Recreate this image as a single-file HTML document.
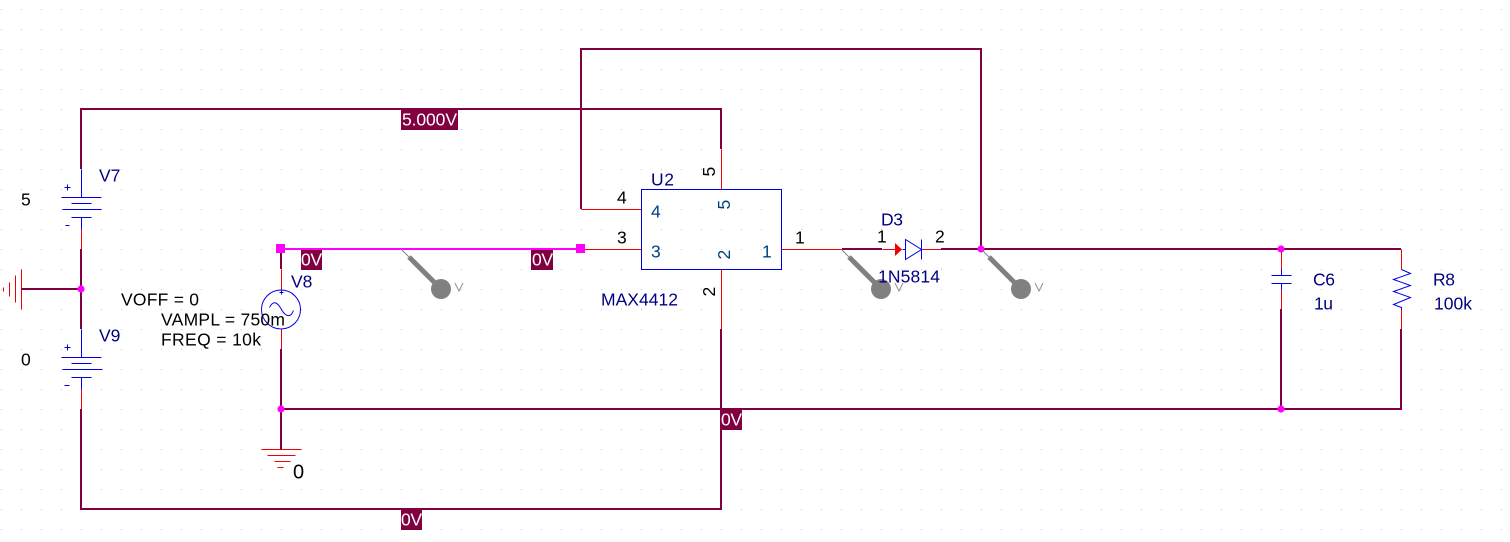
<!DOCTYPE html>
<html><head><meta charset="utf-8"><style>
html,body{margin:0;padding:0;background:#fff}
svg{display:block}
text{font-family:"Liberation Sans",sans-serif;font-size:17.5px;fill:#000}
.n{fill:#000080}.p{fill:#004080}.w{fill:#fff}
.m{stroke:#800040;stroke-width:2;fill:none;shape-rendering:crispEdges}
.r{stroke:#f00000;stroke-width:1;fill:none;shape-rendering:crispEdges}
.b{stroke:#0000e8;stroke-width:1;fill:none}
.s{shape-rendering:crispEdges}
.g{stroke:#808080;fill:none}
</style></head><body>
<svg width="1510" height="542" viewBox="0 0 1510 542" xmlns="http://www.w3.org/2000/svg">
<defs><pattern id="d" x="1" y="9" width="20" height="20" patternUnits="userSpaceOnUse"><rect width="1" height="1" fill="#c4c4c4"/></pattern></defs>
<rect width="1510" height="542" fill="#fff"/>
<rect width="1510" height="542" fill="url(#d)"/>

<!-- red pin stubs -->
<g transform="translate(.5 .5)">
<path class="r" d="M81 229V249M81 389V409M281 269V290M281 329V349"/>
<path class="r" d="M721 149V189M721 269V329M581 209H641M581 249H641M781 249H842M882 249H896M921 249H941"/>
<path class="r" d="M1281 249V269M1281 289V309M1401 249V269M1401 309V329"/>
<path class="r" d="M21 269V309M15 275V302M9 282V296M3 287V291"/>
<path class="r" d="M261 449H301M267 455H295M274 461H290M277 467H283"/>
</g>

<!-- maroon wires -->
<path class="m" d="M81 169V109H721V149"/>
<path class="m" d="M581 209V49H981V249"/>
<path class="m" d="M81 249V329M21 289H81"/>
<path class="m" d="M81 409V509H721V329"/>
<path class="m" d="M281 249V269M281 349V449M281 409H1401V329"/>
<path class="m" d="M842 249H882M941 249H1401"/>
<path class="m" d="M1281 309V409"/>

<!-- magenta net -->
<path d="M281 249H581" stroke="#ff00ff" stroke-width="2" fill="none" class="s"/>
<rect x="276" y="244" width="9" height="9" fill="#ff00ff"/>
<rect x="576" y="244" width="9" height="9" fill="#ff00ff"/>
<g fill="#ff00ff"><circle cx="81" cy="289" r="3.6"/><circle cx="281" cy="409" r="3.6"/><circle cx="981" cy="249" r="3.6"/><circle cx="1281" cy="249" r="3.6"/><circle cx="1281" cy="409" r="3.6"/></g>

<g transform="translate(.5 .5)">
<!-- batteries -->
<path class="b s" d="M81 169V197M61 197H101M71 203H91M62 209H101M71 217H91M81 217V229"/>
<path class="b s" d="M81 329V357M61 357H101M71 363H91M62 369H102M71 377H91M81 377V389"/>
<path class="b s" d="M64 187H70M67 184V190M65 225H69M64 347H70M67 344V350M64 385H69"/>

<!-- V8 source -->
<circle class="b" cx="280.500" cy="309" r="19.500"/>
<path class="b" d="M269 307C273 299 277 302 281 309S290 318 293 310M281 290V294M279 292H283"/>

<!-- U2 -->
<rect class="s" x="641" y="189" width="140" height="80" fill="none" stroke="#0000d0" stroke-width="1"/>

<!-- diode -->
<path class="b" d="M902 249H905M905 239V259L921 249ZM921 239V259"/>

<!-- capacitor / resistor -->
<path class="b s" d="M1281 269V275M1271 275H1291M1271 283H1291M1281 283V289"/>
<path class="b" d="M1401 269L1410 273L1393 279L1410 285L1393 291L1410 297L1393 304L1401 307V309"/>
</g>
<path d="M895 243L902 249.500L895 256Z" fill="#f00000"/>

<!-- probes -->
<g>
<path class="g" d="M401 249L409 257M841 249L849 257M981 249L989 257" stroke-width="1"/>
<path class="g" d="M409 257L441 289M849 257L881 289M989 257L1021 289" stroke-width="5"/>
<circle cx="441" cy="289" r="10" fill="#808080"/><circle cx="881" cy="289" r="10" fill="#808080"/><circle cx="1021" cy="289" r="10" fill="#808080"/>
<path d="M455 283L459 291L463 283M895 283L899 291L903 283M1035 283L1039 291L1043 283" fill="none" stroke="#909090" stroke-width="1"/>
</g>

<!-- voltage markers -->
<g fill="#800040"><rect x="401" y="110" width="57" height="20"/><rect x="301" y="250" width="21" height="20"/><rect x="531" y="250" width="22" height="20"/><rect x="721" y="410" width="21" height="20"/><rect x="401" y="510" width="21" height="20"/></g>

<g transform="translate(0 .5)">
<text class="w" x="402" y="125" textLength="55">5.000V</text>
<text class="w" x="301" y="265" textLength="21">0V</text>
<text class="w" x="532" y="265" textLength="21">0V</text>
<text class="w" x="721" y="425" textLength="21">0V</text>
<text class="w" x="401" y="525" textLength="21">0V</text>

<!-- labels -->
<text class="n" x="99" y="181">V7</text>
<text class="n" x="99" y="341">V9</text>
<text class="n" x="291" y="287">V8</text>
<text x="21" y="205">5</text>
<text x="21" y="365">0</text>
<text x="293" y="478" style="font-size:20px">0</text>
<text x="121" y="305" textLength="78">VOFF = 0</text>
<text x="161" y="325" textLength="124">VAMPL = 750m</text>
<text x="161" y="345" textLength="100">FREQ = 10k</text>
<text class="n" x="651" y="185" textLength="23">U2</text>
<text class="n" x="601" y="305" textLength="77">MAX4412</text>
<text class="n" x="881" y="225" textLength="22">D3</text>
<text class="n" x="878" y="282" textLength="62">1N5814</text>
<text class="n" x="1313" y="285" textLength="22">C6</text>
<text class="n" x="1314" y="309" textLength="19">1u</text>
<text class="n" x="1433" y="285" textLength="22">R8</text>
<text class="n" x="1434" y="309" textLength="38">100k</text>
<text x="617" y="203">4</text>
<text x="617" y="243">3</text>
<text x="795" y="243">1</text>
<text x="877" y="242">1</text>
<text x="935" y="242">2</text>
<text class="p" x="651" y="217">4</text>
<text class="p" x="651" y="257">3</text>
<text class="p" x="762" y="257">1</text>
<text transform="translate(715 176) rotate(-90)">5</text>
<text transform="translate(715 296) rotate(-90)">2</text>
<text class="p" transform="translate(730 209) rotate(-90)">5</text>
<text class="p" transform="translate(730 259) rotate(-90)">2</text>
</g>
</svg>
</body></html>
